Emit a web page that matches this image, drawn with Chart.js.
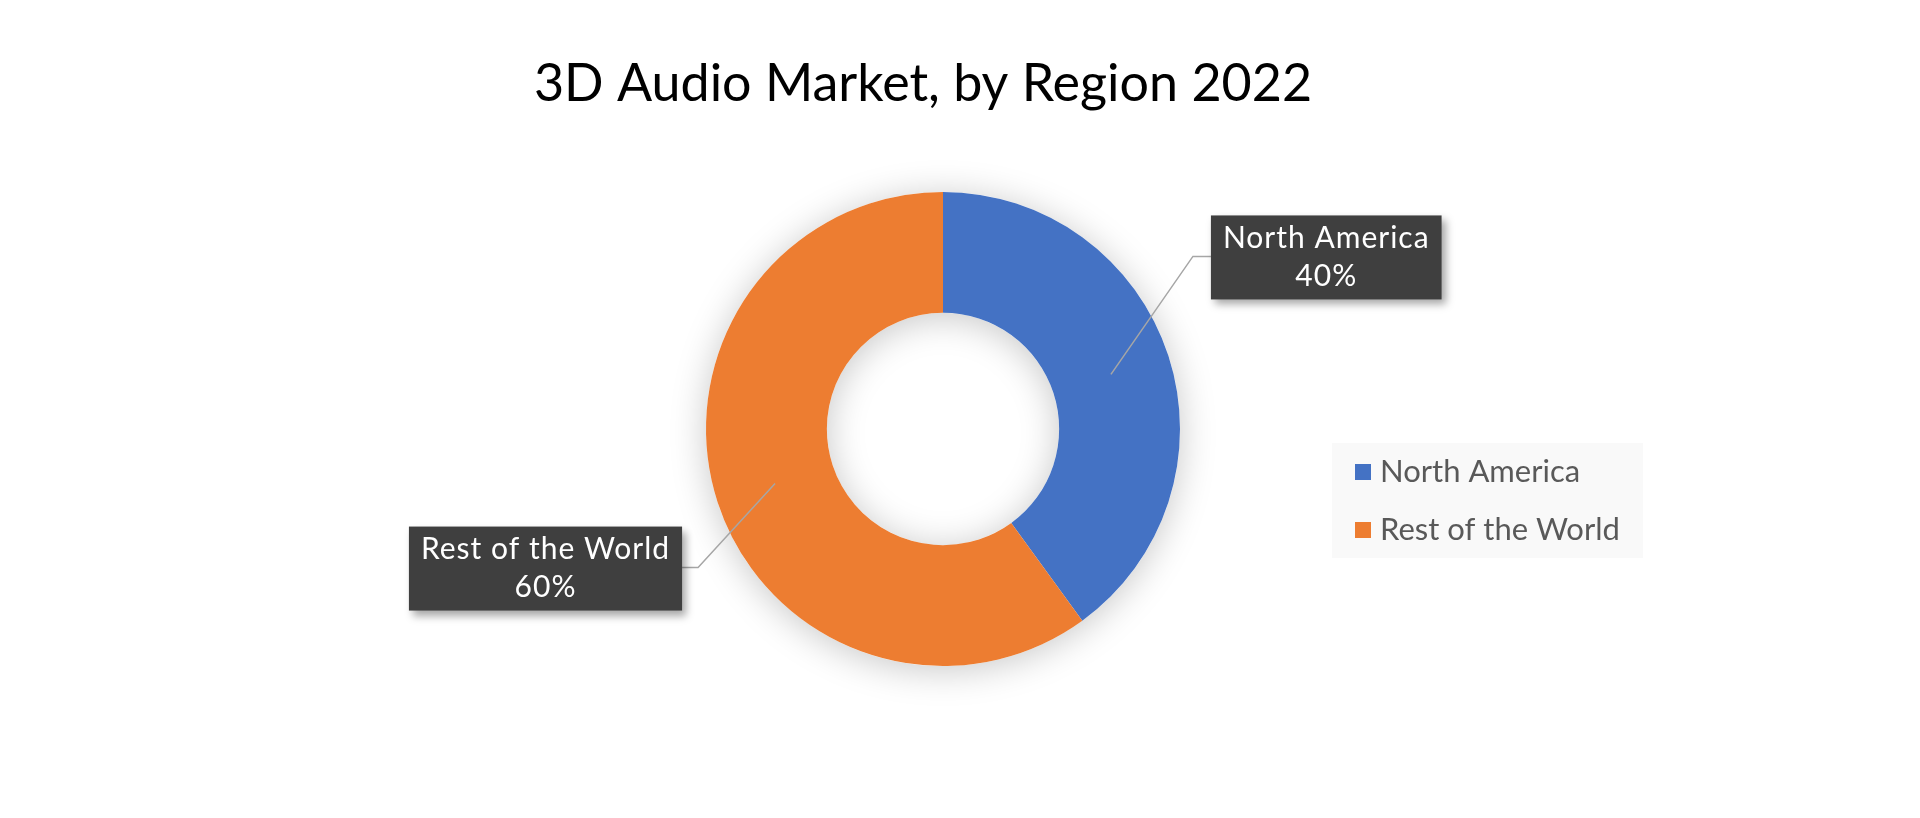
<!DOCTYPE html>
<html>
<head>
<meta charset="utf-8">
<script src="https://cdn.jsdelivr.net/npm/chart.js@4.4.0/dist/chart.umd.min.js"></script>
<style>
  html, body { margin: 0; padding: 0; background: #ffffff; }
  #chart { display: block; }
</style>
</head>
<body>
<canvas id="chart" width="1920" height="818"></canvas>
<script>
// chart data
const chartTitle = '3D Audio Market, by Region 2022';
const regions = ['North America', 'Rest of the World'];
const shares = [40, 60];
const sliceColors = ['#4472C4', '#ED7D31'];

const FONT = 'Lato, "Open Sans", sans-serif';

// where each callout sits relative to its slice anchor (elbow point)
const calloutOffsets = [
    { dx: 82, dy: -118, side: 'right' },
    { dx: -77, dy: 84, side: 'left' }
];

// soft shadow behind the ring
const ringShadow = {
    id: 'ringShadow',
    beforeDatasetsDraw(chart) {
        const arc = chart.getDatasetMeta(0).data[0];
        if (!arc) return;
        const ctx = chart.ctx;
        ctx.save();
        ctx.shadowColor = 'rgba(0,0,0,0.22)';
        ctx.shadowBlur = 36;
        ctx.shadowOffsetY = 4;
        ctx.fillStyle = '#ffffff';
        ctx.beginPath();
        ctx.arc(arc.x, arc.y, arc.outerRadius, 0, Math.PI * 2);
        ctx.arc(arc.x, arc.y, arc.innerRadius, 0, Math.PI * 2, true);
        ctx.fill();
        ctx.restore();
    }
};

// title, callouts and legend
const decorations = {
    id: 'decorations',
    afterDraw(chart) {
        const ctx = chart.ctx;
        const meta = chart.getDatasetMeta(0);

        // title
        ctx.save();
        ctx.fillStyle = '#000000';
        ctx.font = '52px ' + FONT;
        ctx.textAlign = 'center';
        ctx.textBaseline = 'middle';
        ctx.fillText(chartTitle, 923, 84);
        ctx.restore();

        // callouts
        meta.data.forEach((arc, i) => {
            const p = arc.tooltipPosition();
            const off = calloutOffsets[i];
            const ex = p.x + off.dx;
            const ey = p.y + off.dy;

            ctx.save();
            ctx.font = '30px ' + FONT;
            ctx.letterSpacing = '1px';
            const line1 = chart.data.labels[i];
            const line2 = chart.data.datasets[0].data[i] + '%';
            const w = Math.max(ctx.measureText(line1).width, ctx.measureText(line2).width) + 24;
            const h = 84;
            const bx = off.side === 'right' ? ex + 18 : ex - 16 - w;
            const by = ey - h / 2 + 1;

            // leader line
            ctx.strokeStyle = '#a6a6a6';
            ctx.lineWidth = 1.5;
            ctx.beginPath();
            ctx.moveTo(p.x, p.y);
            ctx.lineTo(ex, ey);
            ctx.lineTo(off.side === 'right' ? bx : bx + w, ey);
            ctx.stroke();

            // box
            ctx.shadowColor = 'rgba(0,0,0,0.35)';
            ctx.shadowBlur = 8;
            ctx.shadowOffsetX = 4;
            ctx.shadowOffsetY = 5;
            ctx.fillStyle = '#3f3f3f';
            ctx.fillRect(bx, by, w, h);
            ctx.shadowColor = 'transparent';

            ctx.fillStyle = '#ffffff';
            ctx.textAlign = 'center';
            ctx.textBaseline = 'middle';
            ctx.fillText(line1, bx + w / 2, by + h / 2 - 19);
            ctx.fillText(line2, bx + w / 2, by + h / 2 + 19);
            ctx.restore();
        });

        // legend
        ctx.save();
        ctx.fillStyle = '#f9f9f9';
        ctx.fillRect(1332, 443, 311, 115);
        ctx.font = '31px ' + FONT;
        ctx.textAlign = 'left';
        ctx.textBaseline = 'middle';
        chart.data.labels.forEach((label, i) => {
            const y = 472 + i * 58;
            ctx.fillStyle = chart.data.datasets[0].backgroundColor[i];
            ctx.fillRect(1355, y - 8, 16, 16);
            ctx.fillStyle = '#595959';
            ctx.fillText(label, 1380, y);
        });
        ctx.restore();
    }
};

new Chart(document.getElementById('chart').getContext('2d'), {
    type: 'doughnut',
    data: {
        labels: regions,
        datasets: [{
            data: shares,
            backgroundColor: sliceColors,
            borderWidth: 0
        }]
    },
    options: {
        responsive: false,
        animation: false,
        cutout: '49%',
        layout: {
            padding: { left: 706, right: 740, top: 192, bottom: 152 }
        },
        plugins: {
            legend: { display: false },
            tooltip: { enabled: false },
            title: { display: false }
        }
    },
    plugins: [ringShadow, decorations]
});
</script>
</body>
</html>
